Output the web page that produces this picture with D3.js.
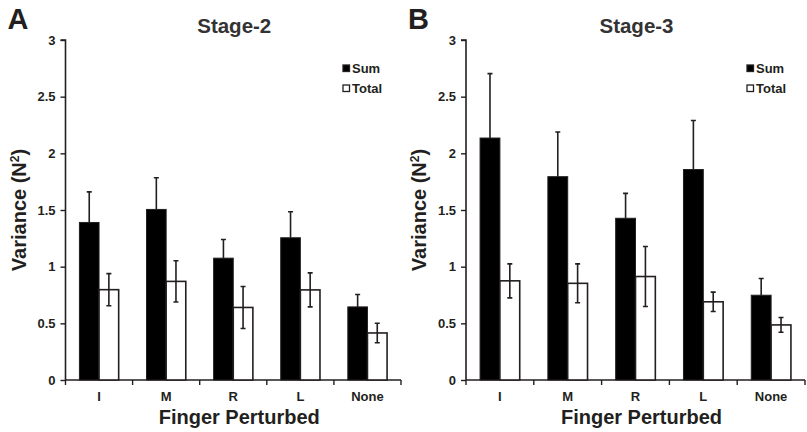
<!DOCTYPE html>
<html>
<head>
<meta charset="utf-8">
<script src="https://cdn.jsdelivr.net/npm/d3@7/dist/d3.min.js"></script>
<style>
  html, body { margin: 0; padding: 0; background: #fff; }
  svg { display: block; font-family: "Liberation Sans", Arial, sans-serif; }
  text { font-weight: bold; fill: #231f20; }
</style>
</head>
<body>
<svg id="chart" width="807" height="432"></svg>
<script>
// ---- data ----
const categories = ["I", "M", "R", "L", "None"];
const series = ["Sum", "Total"];
const yTicks = [0, 0.5, 1, 1.5, 2, 2.5, 3];
const yTickLabels = ["0", "0.5", "1", "1.5", "2", "2.5", "3"];

const stage2Sum = [1.39, 1.505, 1.075, 1.255, 0.645];
const stage2SumErr = [0.27, 0.28, 0.165, 0.23, 0.11];
const stage2Total = [0.797, 0.87, 0.64, 0.795, 0.415];
const stage2TotalErr = [0.142, 0.182, 0.185, 0.15, 0.086];

const stage3Sum = [2.135, 1.794, 1.427, 1.857, 0.748];
const stage3SumErr = [0.568, 0.394, 0.22, 0.433, 0.148];
const stage3Total = [0.875, 0.853, 0.913, 0.69, 0.486];
const stage3TotalErr = [0.15, 0.172, 0.265, 0.085, 0.065];

const panels = [
  { letter: "A", title: "Stage-2", sum: stage2Sum, sumErr: stage2SumErr, total: stage2Total, totalErr: stage2TotalErr, left: 65.5, right: 401 },
  { letter: "B", title: "Stage-3", sum: stage3Sum, sumErr: stage3SumErr, total: stage3Total, totalErr: stage3TotalErr, left: 466, right: 805 }
];

const svg = d3.select("#chart");
const plotTop = 40, plotBottom = 380;
const ink = "#231f20";

const y = d3.scaleLinear().domain([0, 3]).range([plotBottom, plotTop]);

panels.forEach(p => {
  const g = svg.append("g");
  const x0 = d3.scaleBand().domain(categories).range([p.left, p.right])
    .paddingInner(0.415).paddingOuter(0.2075);
  const x1 = d3.scaleBand().domain(series).range([0, x0.bandwidth()]);
  const step = x0.step();

  // panel letter
  g.append("text").attr("x", p.left - 58).attr("y", 29)
    .style("font-size", "29px").text(p.letter);
  // title
  g.append("text").attr("x", (p.left + p.right) / 2 + 1).attr("y", 33)
    .attr("text-anchor", "middle").style("font-size", "20.5px").style("fill", "#333").text(p.title);

  // y axis
  const yAxis = d3.axisLeft(y).tickValues(yTicks).tickSize(5).tickPadding(5)
    .tickFormat((d, i) => yTickLabels[i]);
  const ya = g.append("g").attr("transform", `translate(${p.left},0)`).call(yAxis);
  ya.select(".domain").attr("stroke", ink).attr("stroke-width", 1.6).attr("d", `M-5,${plotTop}H0V${plotBottom}`);
  ya.selectAll(".tick line").attr("stroke", ink).attr("stroke-width", 1.4);
  ya.selectAll(".tick text").style("font-size", "13px").style("font-family", "Liberation Sans, Arial, sans-serif")
    .style("font-weight", "bold").attr("fill", ink);

  // x axis
  const xAxis = d3.axisBottom(x0).tickSize(0).tickPadding(12);
  const xa = g.append("g").attr("transform", `translate(0,${plotBottom})`).call(xAxis);
  xa.select(".domain").attr("stroke", ink).attr("stroke-width", 1.6).attr("d", `M${p.left},0H${p.right}`);
  xa.selectAll(".tick text").style("font-size", "13px").style("font-family", "Liberation Sans, Arial, sans-serif")
    .style("font-weight", "bold").attr("fill", ink);
  // boundary tick marks
  const bounds = categories.map(c => x0(c) + x0.bandwidth() / 2 - step / 2)
    .concat([x0(categories[categories.length - 1]) + x0.bandwidth() / 2 + step / 2]);
  g.selectAll(".btick").data(bounds).join("line")
    .attr("x1", d => d).attr("x2", d => d).attr("y1", plotBottom).attr("y2", plotBottom + 5)
    .attr("stroke", ink).attr("stroke-width", 1.4);

  // axis titles
  g.append("text").attr("x", (p.left + p.right) / 2 + 6).attr("y", 424)
    .attr("text-anchor", "middle").style("font-size", "20px").text("Finger Perturbed");
  g.append("text").attr("transform", `translate(${p.left - 40},${(plotTop + plotBottom) / 2}) rotate(-90)`)
    .attr("text-anchor", "middle").style("font-size", "20px")
    .html('Variance (N<tspan dy="-7" style="font-size:12px">2</tspan><tspan dy="7">)</tspan>');

  const rows = categories.map((c, i) => ({ c, sum: p.sum[i], sumErr: p.sumErr[i], total: p.total[i], totalErr: p.totalErr[i] }));

  // Sum bars
  g.selectAll(".sum").data(rows).join("rect")
    .attr("x", d => x0(d.c) + x1("Sum")).attr("width", x1.bandwidth())
    .attr("y", d => y(d.sum)).attr("height", d => y(0) - y(d.sum))
    .attr("fill", "#000").attr("stroke", ink).attr("stroke-width", 1);
  // Sum error bars (upper only)
  g.selectAll(".sumerr").data(rows).join("path")
    .attr("d", d => {
      const cx = x0(d.c) + x1("Sum") + x1.bandwidth() / 2;
      return `M${cx},${y(d.sum)}V${y(d.sum + d.sumErr)}M${cx - 2.5},${y(d.sum + d.sumErr)}H${cx + 2.5}`;
    })
    .attr("stroke", ink).attr("stroke-width", 1.6).attr("fill", "none");

  // Total bars
  g.selectAll(".total").data(rows).join("rect")
    .attr("x", d => x0(d.c) + x1("Total")).attr("width", x1.bandwidth())
    .attr("y", d => y(d.total)).attr("height", d => y(0) - y(d.total))
    .attr("fill", "#fff").attr("stroke", ink).attr("stroke-width", 1.6);
  // Total error bars (both directions)
  g.selectAll(".toterr").data(rows).join("path")
    .attr("d", d => {
      const cx = x0(d.c) + x1("Total") + x1.bandwidth() / 2;
      const t = y(d.total + d.totalErr), b = y(d.total - d.totalErr);
      return `M${cx},${t}V${b}M${cx - 2.5},${t}H${cx + 2.5}M${cx - 2.5},${b}H${cx + 2.5}`;
    })
    .attr("stroke", ink).attr("stroke-width", 1.6).attr("fill", "none");

  // legend
  const lx = p.right - 58;
  const leg = g.append("g");
  series.forEach((s, i) => {
    const ly = 65 + i * 20;
    leg.append("rect").attr("x", lx).attr("y", ly).attr("width", 6.5).attr("height", 6.5)
      .attr("fill", s === "Sum" ? "#000" : "#fff").attr("stroke", ink).attr("stroke-width", 1.3);
    leg.append("text").attr("x", lx + 9).attr("y", ly + 7.5)
      .style("font-size", "13px").text(s);
  });
});
</script>
</body>
</html>
